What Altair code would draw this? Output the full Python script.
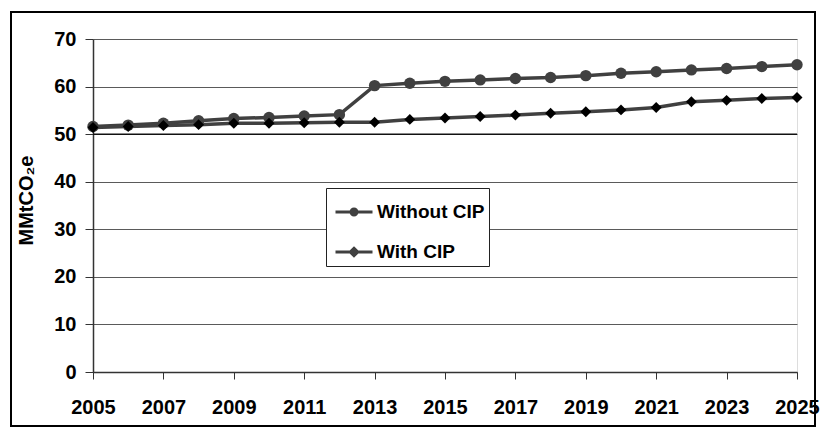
import altair as alt
import pandas as pd

years = list(range(2005, 2026))
without_cip = [51.6, 51.9, 52.3, 52.8, 53.3, 53.5, 53.8, 54.1, 60.2, 60.7, 61.1,
               61.4, 61.7, 61.9, 62.3, 62.8, 63.1, 63.5, 63.8, 64.2, 64.6]
with_cip = [51.4, 51.6, 51.8, 52.0, 52.3, 52.3, 52.4, 52.5, 52.5, 53.1, 53.4,
            53.7, 54.0, 54.4, 54.7, 55.1, 55.6, 56.8, 57.1, 57.5, 57.7]
series_names = ["Without CIP", "With CIP"]
y_ticks = [0, 10, 20, 30, 40, 50, 60, 70]
dark_grid = [50]

df = pd.DataFrame({
    "year": years * 2,
    "value": without_cip + with_cip,
    "series": [series_names[0]] * len(years) + [series_names[1]] * len(years),
})

FONT = "Liberation Sans"
LINE = "#404040"

x_enc = alt.X(
    "year:Q",
    scale=alt.Scale(domain=[2005, 2025], nice=False, zero=False),
    axis=alt.Axis(
        values=years, format="d",
        labelExpr="datum.value % 2 == 1 ? datum.label : ''",
        labelOverlap=False, labelBound=False, labelFlush=False,
        tickSize=7, tickColor="#333", domainColor="#333", domainWidth=1.5,
        labelPadding=18, labelFontSize=20, labelFontWeight="bold",
        labelColor="black", labelFont=FONT, grid=False, title=None,
    ),
)
y_enc = alt.Y(
    "value:Q",
    scale=alt.Scale(domain=[0, 70], nice=False),
    axis=alt.Axis(
        values=y_ticks, tickSize=8, tickColor="#333", domainColor="#333",
        domainWidth=1.5, labelPadding=9, labelFontSize=20, labelFontWeight="bold",
        labelColor="black", labelFont=FONT, grid=True, gridColor="#5a5a5a",
        gridWidth=1, title="MMtCO\u2082e", titleFont=FONT, titleFontSize=20,
        titleFontWeight="bold", titleColor="black", titleAngle=270,
        titleX=-67, titleY=161, titleAlign="center", titleBaseline="middle",
    ),
)

base = alt.Chart(df)

rule50 = alt.Chart(pd.DataFrame({"v": dark_grid})).mark_rule(
    color="#111", strokeWidth=1.5).encode(y="v:Q")
lines = base.mark_line(color=LINE, strokeWidth=3.5).encode(
    x=x_enc, y=y_enc, detail="series:N")
circles = base.transform_filter(alt.datum.series == series_names[0]).mark_point(
    shape="circle", filled=True, color=LINE, size=130, opacity=1).encode(x="year:Q", y="value:Q")
diamonds = base.transform_filter(alt.datum.series == series_names[1]).mark_point(
    shape="diamond", filled=True, color="black", size=120, opacity=1).encode(x="year:Q", y="value:Q")

path_circle = "M-1,0L1,0M0.16,0A0.16,0.16,0,1,1,-0.16,0A0.16,0.16,0,1,1,0.16,0Z"
path_diamond = "M-1,0L1,0M0,-0.2L0.2,0L0,0.2L-0.2,0Z"

legend = alt.Legend(
    orient="none", legendX=233, legendY=149, direction="vertical", title=None,
    strokeColor="#222", fillColor="white", padding=4, cornerRadius=0,
    labelFont=FONT, labelFontSize=19, labelFontWeight="bold", labelColor="black",
    symbolSize=1369, symbolStrokeWidth=3, symbolStrokeColor=LINE,
    rowPadding=10, symbolOffset=4, labelOffset=3,
)
legend_layer = base.transform_filter("false").mark_point(filled=True, opacity=1).encode(
    x="year:Q", y="value:Q",
    shape=alt.Shape("series:N", scale=alt.Scale(domain=series_names, range=[path_circle, path_diamond]),
                    legend=legend),
    color=alt.Color("series:N", scale=alt.Scale(domain=series_names, range=[LINE, "#111111"]),
                    legend=legend),
)

frame = alt.Chart(pd.DataFrame({"frame": [1]})).mark_rect(
    fillOpacity=0, stroke="black", strokeWidth=2).encode(
    x=alt.value(-82), x2=alt.value(722), y=alt.value(-27), y2=alt.value(387))

chart = alt.layer(rule50, lines, circles, diamonds, legend_layer, frame).properties(
    width=704, height=333,
    autosize=alt.AutoSizeParams(type="none"),
    padding={"left": 85, "top": 31, "right": 23, "bottom": 56},
).configure_view(stroke="#999", strokeWidth=1.5).configure(font=FONT)

chart.save("out.html", embed_options={"renderer": "svg", "actions": False})
